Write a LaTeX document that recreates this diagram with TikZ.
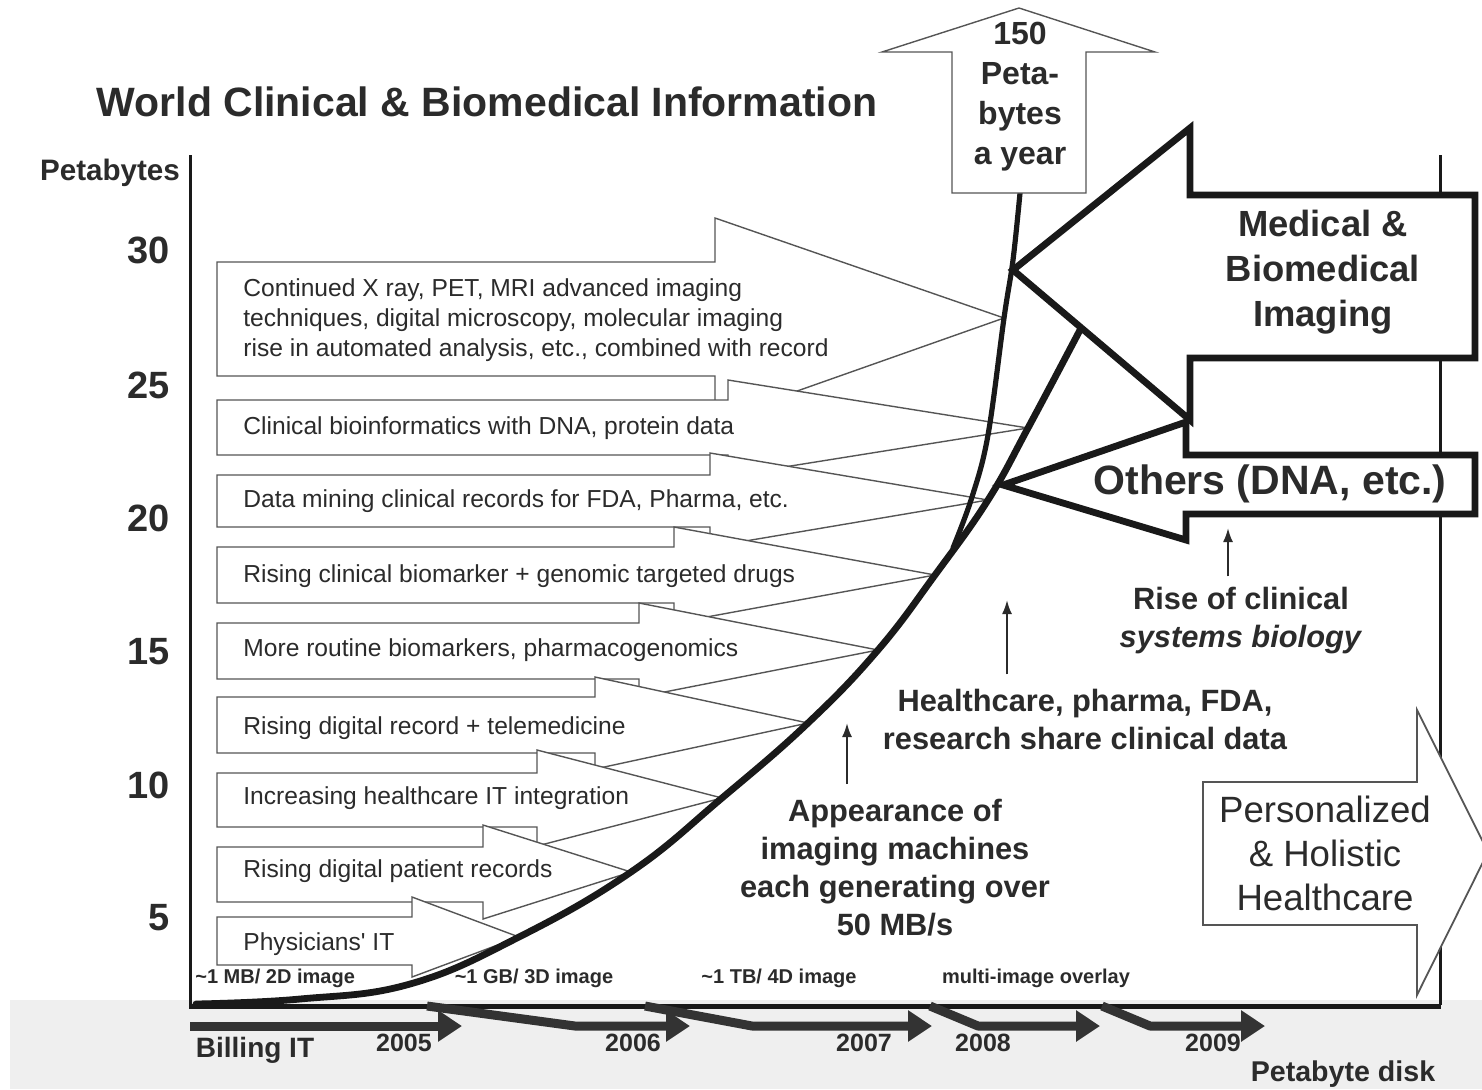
\documentclass[tikz,border=0pt]{standalone}
\usepackage{fontspec}
\setmainfont{Liberation Sans}
\usetikzlibrary{arrows.meta,positioning}

\definecolor{ink}{HTML}{2B2B2B}
\definecolor{edge}{HTML}{555555}
\definecolor{band}{HTML}{EFEFEF}

\begin{document}
\begin{tikzpicture}[
    x=0.5pt, y=-0.5pt,
    >=Latex,
    every node/.style={text=ink, inner sep=0pt},
    axisline/.style={line width=1.5pt, draw=black!90},
    trend/.style={draw=edge, line width=0.7pt, fill=white, line join=miter},
    trendtext/.style={anchor=west, align=left, font=\fontsize{12.3}{15}\selectfont},
    bigarrow/.style={draw=black!90, line width=3.4pt, fill=white, line join=miter},
    growth/.style={line width=3.4pt, draw=black!90, line cap=round},
    pointer/.style={-{Latex[length=7pt,width=5pt]}, line width=1pt, draw=ink},
    yeararrow/.style={-{Triangle[length=12pt,width=15pt]}, line width=4.5pt, draw=black!80, line join=round},
    note/.style={font=\bfseries\fontsize{15.4}{19}\selectfont, align=center},
    sizelabel/.style={font=\bfseries\fontsize{10}{12}\selectfont},
    yearlabel/.style={font=\bfseries\fontsize{12.5}{15}\selectfont},
    ticklabel/.style={anchor=east, font=\bfseries\fontsize{19}{22}\selectfont}
]
\useasboundingbox (0,0) rectangle (1482,1089);
\fill[band] (10,1000) rectangle (1482,1089);

% frame
\draw[axisline] (190,155) -- (190,1005);
\draw[axisline] (1440,155) -- (1440,1005);

\node[font=\bfseries\fontsize{20.5}{24}\selectfont] (title) at (487,102) {World Clinical \& Biomedical Information};
\node[font=\bfseries\fontsize{14.8}{17}\selectfont] (unit) at (110,173) {Petabytes};
\foreach \v/\y in {30/250,25/385,20/518,15/652,10/785,5/918}
    \node[ticklabel] (tick\v) at (170,\y) {\v};

% arrow tips on the growth curve
\coordinate (tip1) at (1004,318);
\coordinate (tip2) at (1028,428);
\coordinate (tip3) at (988,500);
\coordinate (tip4) at (935,575);
\coordinate (tip5) at (878,650);
\coordinate (tip6) at (808,723);
\coordinate (tip7) at (722,798);
\coordinate (tip8) at (631,872);
\coordinate (tip9) at (519,937);

% trend arrows
\draw[trend] (217,262) -- (715,262) -- (715,218) -- (tip1) -- (715,420) -- (715,376) -- (217,376) -- cycle;
\draw[trend] (217,400) -- (728,400) -- (728,380) -- (tip2) -- (728,476) -- (728,455) -- (217,455) -- cycle;
\draw[trend] (217,475) -- (710,475) -- (710,453) -- (tip3) -- (710,547) -- (710,527) -- (217,527) -- cycle;
\draw[trend] (217,547) -- (674,547) -- (674,527) -- (tip4) -- (674,623) -- (674,603) -- (217,603) -- cycle;
\draw[trend] (217,623) -- (639,623) -- (639,603) -- (tip5) -- (639,697) -- (639,679) -- (217,679) -- cycle;
\draw[trend] (217,697) -- (595,697) -- (595,677) -- (tip6) -- (595,769) -- (595,753) -- (217,753) -- cycle;
\draw[trend] (217,773) -- (537,773) -- (537,750) -- (tip7) -- (537,846) -- (537,827) -- (217,827) -- cycle;
\draw[trend] (217,847) -- (483,847) -- (483,825) -- (tip8) -- (483,919) -- (483,902) -- (217,902) -- cycle;
\draw[trend] (217,917) -- (412,917) -- (412,897) -- (tip9) -- (412,977) -- (412,965) -- (217,965) -- cycle;

\node[trendtext] (xray) at (243,320) {Continued X ray, PET, MRI advanced imaging\\techniques, digital microscopy, molecular imaging\\rise in automated analysis, etc., combined with record};
\node[trendtext] (bioinf) at (243,428) {Clinical bioinformatics with DNA, protein data};
\node[trendtext] (mining) at (243,501) {Data mining clinical records for FDA, Pharma, etc.};
\node[trendtext] (biomarker) at (243,576) {Rising clinical biomarker + genomic targeted drugs};
\node[trendtext] (routine) at (243,650) {More routine biomarkers, pharmacogenomics};
\node[trendtext] (telemed) at (243,728) {Rising digital record + telemedicine};
\node[trendtext] (integr) at (243,798) {Increasing healthcare IT integration};
\node[trendtext] (patient) at (243,871) {Rising digital patient records};
\node[trendtext] (physic) at (243,944) {Physicians\textquotesingle\ IT};

% growth curves
\draw[growth] plot[smooth, tension=0.7] coordinates {(196,1004) (300,999) (410,984) (tip9) (tip8) (tip7) (tip6) (tip5) (tip4) (tip3) (tip2) (1080,330)};
\draw[growth, line width=2.6pt] plot[smooth, tension=0.6] coordinates {(953,548) (972,497) (988,435) (tip1) (1013,260) (1020,193)};

% 150 petabytes arrow
\draw[trend] (952,193) -- (952,52) -- (882,52) -- (1019,8) -- (1155,52) -- (1086,52) -- (1086,193) -- cycle;
\node[font=\bfseries\fontsize{16}{20}\selectfont, align=center] (yearly) at (1020,97) {150\\Peta-\\bytes\\a year};

% imaging and others arrows
\draw[bigarrow] (1013,270) -- (1190,128) -- (1190,195) -- (1475,195) -- (1475,358) -- (1190,358) -- (1190,420) -- cycle;
\node[font=\bfseries\fontsize{18.2}{22.5}\selectfont, align=center] (imaging) at (1323,272) {Medical \&\\Biomedical\\Imaging};
\draw[bigarrow] (1003,485) -- (1186,422) -- (1186,455) -- (1475,455) -- (1475,514) -- (1186,514) -- (1186,540) -- cycle;
\node[font=\bfseries\fontsize{20.5}{24}\selectfont] (others) at (1270,484) {Others (DNA, etc.)};

% personalized arrow
\draw[trend, line width=0.9pt] (1203,782) -- (1417,782) -- (1417,710) -- (1488,852) -- (1417,995) -- (1417,925) -- (1203,925) -- cycle;
\node[font=\fontsize{18.3}{22}\selectfont, align=center] (personal) at (1325,853) {Personalized\\\& Holistic\\Healthcare};

% notes with pointers
\node[note] (rise) at (1241,621) {Rise of clinical\\\textit{systems biology}};
\node[note] (share) at (1085,719) {Healthcare, pharma, FDA,\\research share clinical data};
\node[note] (appear) at (895,868) {Appearance of\\imaging machines\\each generating over\\50 MB/s};
\coordinate (risetip) at (1228,528);
\coordinate (sharetip) at (1007,600);
\coordinate (appeartip) at (847,723);
\draw[pointer, shorten <=5.5pt] (rise.north -| risetip) -- (risetip);
\draw[pointer, shorten <=7pt] (share.north -| sharetip) -- (sharetip);
\draw[pointer, shorten <=7.5pt] (appear.north -| appeartip) -- (appeartip);

% image size labels
\node[sizelabel, anchor=west] (mb) at (195,978) {\textasciitilde1 MB/ 2D image};
\node[sizelabel] (gb) at (534,978) {\textasciitilde1 GB/ 3D image};
\node[sizelabel] (tb) at (779,978) {\textasciitilde1 TB/ 4D image};
\node[sizelabel] (overlay) at (1036,978) {multi-image overlay};

% baseline and year arrows
\draw[line width=2.5pt, draw=black!90] (189,1006) -- (1441,1006);
\draw[yeararrow] (190,1026) -- (462,1026);
\draw[yeararrow] (427,1006) -- (575,1026) -- (690,1026);
\draw[yeararrow] (645,1006) -- (752,1026) -- (932,1026);
\draw[yeararrow] (930,1006) -- (978,1026) -- (1100,1026);
\draw[yeararrow] (1102,1006) -- (1150,1026) -- (1265,1026);

\foreach \yr/\x in {2005/404,2006/633,2007/864,2008/983,2009/1213}
    \node[yearlabel] (yr\yr) at (\x,1043) {\yr};
\node[font=\bfseries\fontsize{14}{17}\selectfont] (billing) at (255,1050) {Billing IT};
\node[font=\bfseries\fontsize{14.3}{17}\selectfont] (disk) at (1343,1074) {Petabyte disk};
\end{tikzpicture}
\end{document}
